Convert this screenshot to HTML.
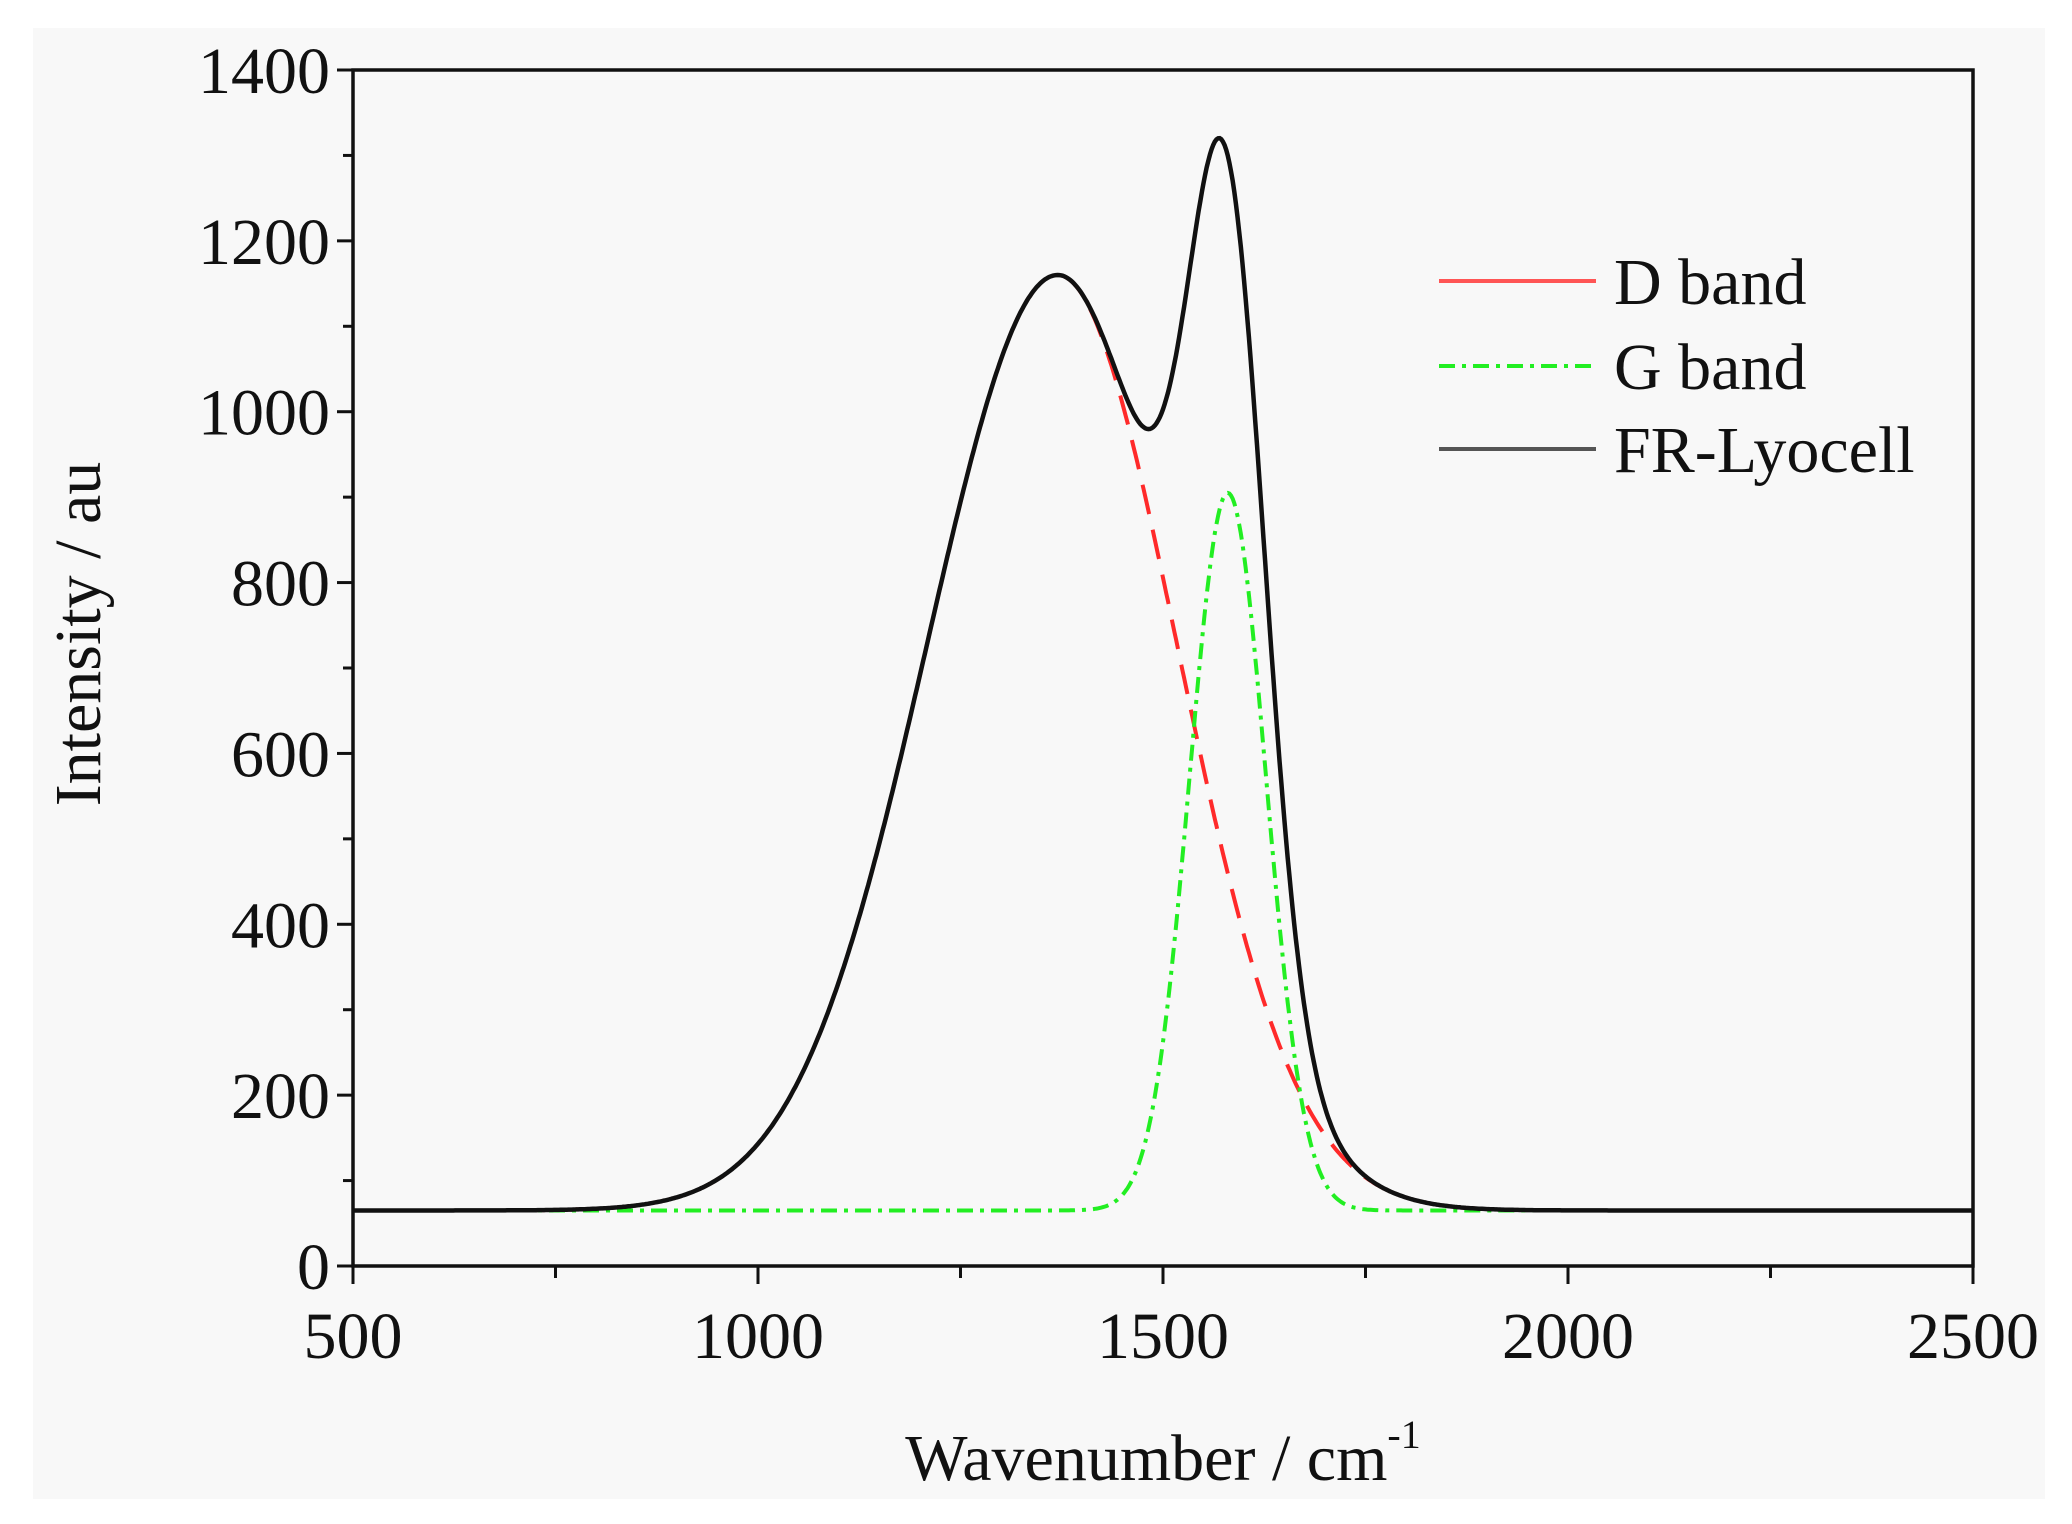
<!DOCTYPE html>
<html><head><meta charset="utf-8"><style>
html,body{margin:0;padding:0;background:#fff;}
svg{display:block;}
text{font-family:"Liberation Serif",serif;fill:#111;}
</style></head><body>
<svg id="s" width="2072" height="1524" viewBox="0 0 2072 1524" xmlns="http://www.w3.org/2000/svg">
<rect x="33" y="28" width="2012" height="1471" fill="#f8f8f8"/>
<g id="ticks" stroke="#111" stroke-width="3"></g>
<path id="pd" fill="none" stroke="#ff2a2a" stroke-width="4" stroke-dasharray="30,16"/>
<path id="pg" fill="none" stroke="#22ee22" stroke-width="4" stroke-dasharray="16,7,4,7"/>
<path id="pt" fill="none" stroke="#111" stroke-width="4.5"/>
<rect x="353" y="70" width="1620" height="1196" fill="none" stroke="#111" stroke-width="3.5"/>
<g font-size="66" text-anchor="end" id="ylab"></g>
<g font-size="66" text-anchor="middle" id="xlab"></g>
<text x="1163" y="1480" font-size="66" text-anchor="middle">Wavenumber / cm<tspan font-size="40" dy="-32">-1</tspan></text>
<text transform="translate(100,634) rotate(-90)" font-size="66" text-anchor="middle">Intensity / au</text>
<line x1="1439" y1="281" x2="1596" y2="281" stroke="#ff5555" stroke-width="4"/>
<line x1="1439" y1="366" x2="1596" y2="366" stroke="#22ee22" stroke-width="4" stroke-dasharray="16,7,4,7"/>
<line x1="1439" y1="449" x2="1596" y2="449" stroke="#555" stroke-width="4"/>
<text x="1614" y="304" font-size="66">D band</text>
<text x="1614" y="389" font-size="66">G band</text>
<text x="1614" y="472" font-size="66">FR-Lyocell</text>
</svg>
<script>
const X=v=>353+(v-500)*0.81, Y=v=>1266-v*1196/1400;
const D=x=>{const s=x<1370?161:147;return 65+1095*Math.exp(-Math.pow(x-1370,2)/(2*s*s));};
const G=x=>65+840*Math.exp(-Math.pow(x-1580,2)/(2*47*47));
let pd="",pg="",pt="";
for(let x=500;x<=2500;x+=2){
 const c=x==500?"M":"L";
 pt+=c+X(x).toFixed(1)+","+Y(D(x)+G(x)-65).toFixed(1);
 if(x>=700&&x<=2050){const c2=x==700?"M":"L";pg+=c2+X(x).toFixed(1)+","+Y(G(x)).toFixed(1);}
 if(x>=700&&x<=1900){const c3=x==700?"M":"L";pd+=c3+X(x).toFixed(1)+","+Y(D(x)).toFixed(1);}
}
document.getElementById("pd").setAttribute("d",pd);
document.getElementById("pg").setAttribute("d",pg);
document.getElementById("pt").setAttribute("d",pt);
const ns="http://www.w3.org/2000/svg";
const tk=document.getElementById("ticks");
function ln(a,b,c,d){const l=document.createElementNS(ns,"line");l.setAttribute("x1",a);l.setAttribute("y1",b);l.setAttribute("x2",c);l.setAttribute("y2",d);tk.appendChild(l);}
function tx(g,x,y,t){const e=document.createElementNS(ns,"text");e.setAttribute("x",x);e.setAttribute("y",y);e.textContent=t;document.getElementById(g).appendChild(e);}
for(let v=0;v<=1400;v+=100){const y=Y(v);ln(v%200==0?337:343,y,353,y);if(v%200==0)tx("ylab",330,y+23,v);}
for(let v=500;v<=2500;v+=250){const x=X(v);ln(x,1266,x,v%500==0?1284:1278);if(v%500==0)tx("xlab",x,1358,v);}
</script>
</body></html>
